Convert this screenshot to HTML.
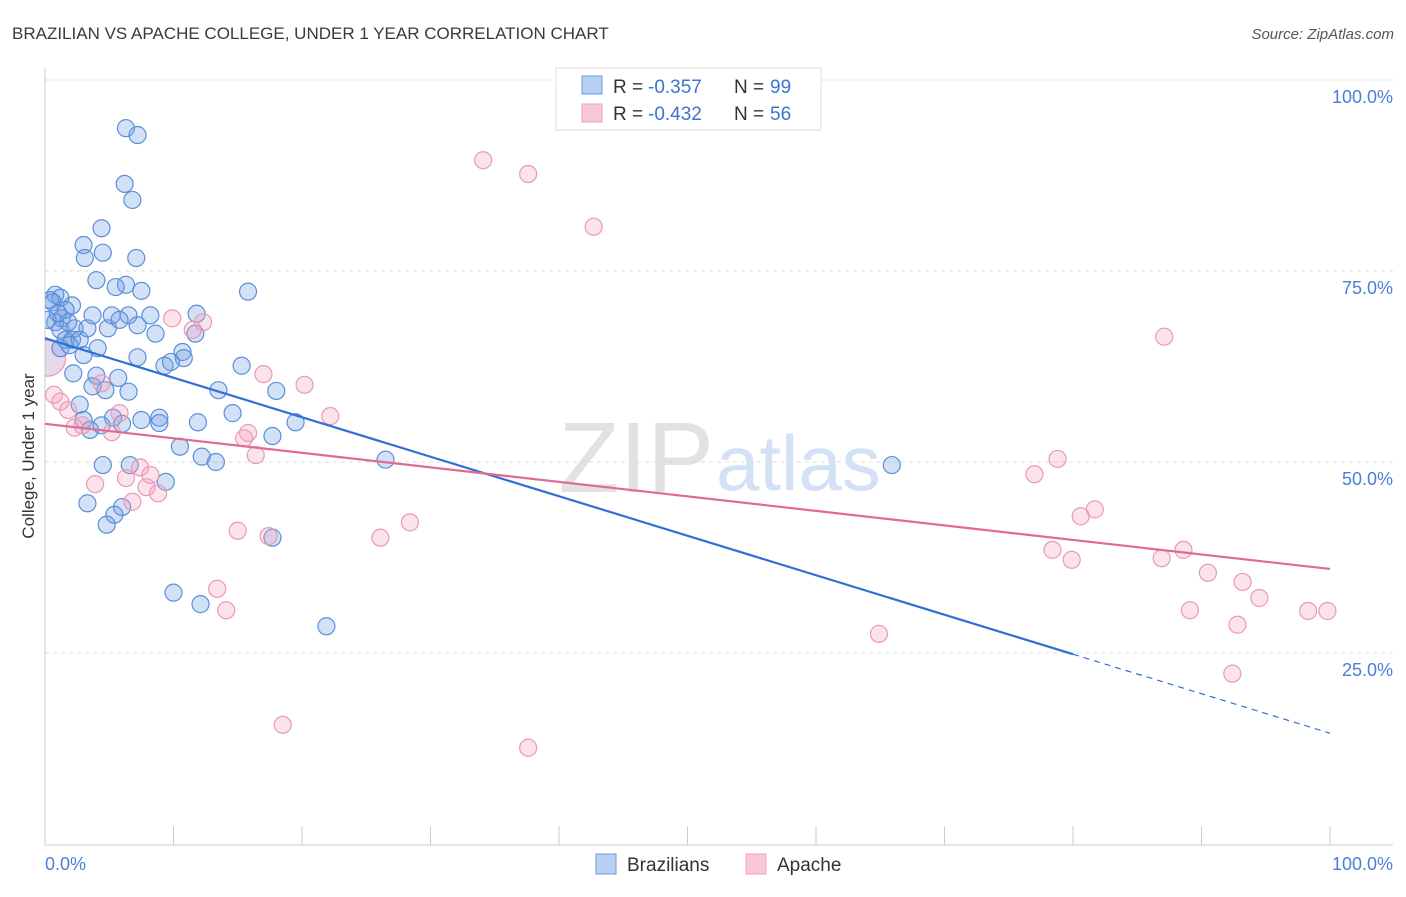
<!DOCTYPE html>
<html><head><meta charset="utf-8"><style>
body{margin:0;background:#fff;font-family:"Liberation Sans",sans-serif;}
svg text{font-family:"Liberation Sans",sans-serif;}
</style></head><body>
<svg id="c" width="1406" height="892" xmlns="http://www.w3.org/2000/svg">
<defs><clipPath id="plotclip"><rect x="45" y="60" width="1360" height="785"/></clipPath></defs>
<text x="12" y="39" font-size="17" fill="#3a3a3a">BRAZILIAN VS APACHE COLLEGE, UNDER 1 YEAR CORRELATION CHART</text>
<text x="1394" y="39" font-size="15" fill="#555" font-style="italic" text-anchor="end">Source: ZipAtlas.com</text>
<text x="714" y="492" font-size="100" fill="#e2e2e2" text-anchor="end" font-family="Liberation Serif">ZIP</text>
<text x="716" y="490" font-size="78" fill="#d3e1f5">atlas</text>
<g id="grid"></g>
<line x1="45" y1="68" x2="45" y2="845" stroke="#ccc"/>
<line x1="45" y1="845" x2="1393" y2="845" stroke="#ccc"/>
<text transform="translate(34,456) rotate(-90)" font-size="17" fill="#333" text-anchor="middle">College, Under 1 year</text>
<text x="45" y="870" font-size="18" fill="#4a7fd6">0.0%</text>
<text x="1393" y="870" font-size="18" fill="#4a7fd6" text-anchor="end">100.0%</text>
<g id="pts" clip-path="url(#plotclip)"></g>
<g id="lines"></g>
<g>
<rect x="556" y="68" width="265" height="62" fill="#fff" stroke="#ddd"/>
<rect x="582" y="76" width="20" height="18" fill="#b8d0f4" stroke="#6e9be0"/>
<rect x="582" y="104" width="20" height="18" fill="#f9c7d6" stroke="#eba0b9"/>
<text x="613" y="93" font-size="19" fill="#333">R =</text><text x="648" y="93" font-size="19" fill="#3b74d1">-0.357</text>
<text x="734" y="93" font-size="19" fill="#333">N =</text><text x="770" y="93" font-size="19" fill="#3b74d1">99</text>
<text x="613" y="120" font-size="19" fill="#333">R =</text><text x="648" y="120" font-size="19" fill="#3b74d1">-0.432</text>
<text x="734" y="120" font-size="19" fill="#333">N =</text><text x="770" y="120" font-size="19" fill="#3b74d1">56</text>
</g>
<g><rect x="596" y="854" width="20" height="20" fill="#b8d0f4" stroke="#6e9be0"/><text x="627" y="871" font-size="19" fill="#333">Brazilians</text></g>
<g><rect x="746" y="854" width="20" height="20" fill="#f9c7d6" stroke="#eba0b9"/><text x="777" y="871" font-size="19" fill="#333">Apache</text></g>
</svg>
<script>
const yTicks=[25,50,75,100];
const yTickLabels=["25.0%","50.0%","75.0%","100.0%"];
const xTicks=[10,20,30,40,50,60,70,80,90,100];
const blueX=[6.3,7.2,6.2,6.8,4.4,3.0,4.5,3.1,7.1,4.0,6.3,5.5,7.5,15.8,0.8,1.2,0.4,2.1,1.6,3.7,5.2,6.5,8.2,11.8,0.8,1.3,2.3,3.3,4.9,5.8,7.2,8.6,11.7,1.6,2.1,2.7,4.1,1.2,3.0,7.2,10.7,10.8,9.3,9.8,15.3,2.2,4.0,5.7,3.7,4.7,6.5,13.5,18.0,2.7,14.6,5.3,7.5,8.9,8.9,11.9,19.5,3.0,3.5,4.4,6.0,17.7,10.5,12.2,4.5,6.6,13.3,26.5,65.9,9.4,3.3,6.0,5.4,4.8,17.7,10.0,12.1,21.9,0.6,1.0,1.8,0.2,1.2,1.9];
const blueY=[93.7,92.8,86.4,84.3,80.6,78.4,77.4,76.7,76.7,73.8,73.2,72.9,72.4,72.3,71.9,71.5,71.2,70.5,69.9,69.2,69.2,69.2,69.2,69.4,68.3,68.8,67.5,67.5,67.5,68.6,67.9,66.8,66.8,66.0,66.0,66.0,64.9,64.9,64.0,63.7,64.4,63.6,62.6,63.1,62.6,61.6,61.3,61.0,59.9,59.4,59.2,59.4,59.3,57.5,56.4,55.8,55.5,55.8,55.1,55.2,55.2,55.5,54.2,54.8,55.0,53.4,52.0,50.7,49.6,49.6,50.0,50.3,49.6,47.4,44.6,44.1,43.1,41.8,40.1,32.9,31.4,28.5,70.9,69.5,68.3,68.6,67.3,65.3];
const pinkX=[34.1,37.6,42.7,87.1,9.9,12.3,11.5,17.0,20.2,4.4,0.7,1.2,1.8,5.8,22.2,2.3,2.9,5.2,15.8,15.5,16.4,7.4,8.2,6.3,7.9,3.9,8.8,6.8,15.0,17.4,26.1,28.4,78.8,77.0,81.7,80.6,78.4,79.9,88.6,86.9,90.5,93.2,94.5,89.1,92.8,98.3,99.8,13.4,14.1,64.9,92.4,18.5,37.6];
const pinkY=[89.5,87.7,80.8,66.4,68.8,68.3,67.3,61.5,60.1,60.3,58.8,57.9,56.8,56.4,56.0,54.5,54.8,53.9,53.8,53.1,50.9,49.3,48.3,47.9,46.7,47.1,45.9,44.8,41.0,40.3,40.1,42.1,50.4,48.4,43.8,42.9,38.5,37.2,38.5,37.4,35.5,34.3,32.2,30.6,28.7,30.5,30.5,33.4,30.6,27.5,22.3,15.6,12.6];
const bigPink=[0.2,63.6];
const blueTrend=[66.2,14.5], blueSolidEnd=80;
const pinkTrend=[55.0,36.0];
const X=v=>45+v*12.85, Y=v=>844-v*7.64;
const NS="http://www.w3.org/2000/svg";
function mk(t,a,p){const e=document.createElementNS(NS,t);for(const k in a)e.setAttribute(k,a[k]);document.getElementById(p).appendChild(e);return e;}
yTicks.forEach((t,i)=>{
 const l=mk('line',{x1:45,x2:1393,y1:Y(t),y2:Y(t),stroke:'#ddd','stroke-dasharray':'4,4'},'grid');
 
 
 const tx=mk('text',{x:1393,y:Y(t)+23,'font-size':18,fill:'#4a7fd6','text-anchor':'end'},'grid');
 tx.textContent=yTickLabels[i];
 
 
});
xTicks.forEach(t=>{
 const l=mk('line',{x1:X(t),x2:X(t),y1:826,y2:845,stroke:'#ccc'},'grid');
 
 
});
const bp=mk('circle',{cx:X(bigPink[0]),cy:Y(bigPink[1]),r:18,fill:'rgba(200,170,210,0.45)',stroke:'#e89ab5','stroke-width':1.2},'pts');


blueX.forEach((x,i)=>{
 const c=mk('circle',{cx:X(x),cy:Y(blueY[i]),r:8.5,fill:'rgba(110,155,230,0.3)',stroke:'#5b8fd8','stroke-width':1.2},'pts');
 
 
});
pinkX.forEach((x,i)=>{
 const c=mk('circle',{cx:X(x),cy:Y(pinkY[i]),r:8.5,fill:'rgba(245,160,190,0.3)',stroke:'#e89ab5','stroke-width':1.2},'pts');
 
 
});
const bt=x=>blueTrend[0]+(blueTrend[1]-blueTrend[0])*x/100;
const l1=mk('line',{x1:X(0),y1:Y(bt(0)),x2:X(blueSolidEnd),y2:Y(bt(blueSolidEnd)),stroke:'#2f6fd6','stroke-width':2.2},'lines');


const l2=mk('line',{x1:X(blueSolidEnd),y1:Y(bt(blueSolidEnd)),x2:X(100),y2:Y(bt(100)),stroke:'#2f6fd6','stroke-width':1.2,'stroke-dasharray':'6,5'},'lines');


const l3=mk('line',{x1:X(0),y1:Y(pinkTrend[0]),x2:X(100),y2:Y(pinkTrend[1]),stroke:'#e06a93','stroke-width':2.2},'lines');


</script>
</body></html>
